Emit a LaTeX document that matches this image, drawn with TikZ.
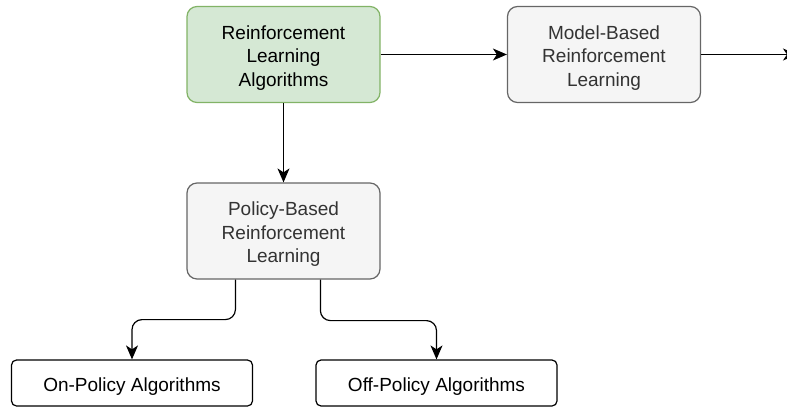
\documentclass[tikz,border=0pt]{standalone}
\usepackage{fontspec}
\setmainfont{Liberation Sans}
\usetikzlibrary{arrows.meta}
\definecolor{greenfill}{HTML}{D5E8D4}
\definecolor{greenline}{HTML}{82B366}
\definecolor{grayfill}{HTML}{F5F5F5}
\definecolor{grayline}{HTML}{666666}
\definecolor{graytext}{HTML}{333333}
% stacked, centred lines of a label, set slightly low in their box
\newcommand\labellines[1]{\raisebox{-3.5pt}[\height][\depth]{\begin{tabular}{@{}c@{}}#1\end{tabular}}}
\tikzset{
  box/.style={rectangle, rounded corners=10pt, line width=1.2pt,
    minimum width=193pt, minimum height=96pt, inner sep=0pt,
    font=\fontsize{19}{23.5}\selectfont},
  rootbox/.style={box, fill=greenfill, draw=greenline},
  graybox/.style={box, fill=grayfill, draw=grayline, text=graytext},
  leafbox/.style={rectangle, rounded corners=5pt, line width=1.2pt, draw=black,
    fill=white, minimum width=241pt, minimum height=46pt, inner sep=0pt,
    font=\fontsize{19}{23.5}\selectfont},
  link/.style={line width=1.2pt, draw=black,
    -{Stealth[length=14pt,width=12pt,inset=4pt]}},
}
\begin{document}
\begin{tikzpicture}[x=1pt,y=-1pt]
\useasboundingbox (0,0) rectangle (787,409);
\clip (0,0) rectangle (787,409);
\node[rootbox] (rl) at (283.5,54.5) {\labellines{Reinforcement\\Learning\\Algorithms}};
\node[graybox] (mb) at (604,54.5) {\labellines{Model-Based\\Reinforcement\\Learning}};
\node[graybox] (pb) at (283.5,231) {\labellines{Policy-Based\\Reinforcement\\Learning}};
\node[leafbox] (on) at (132,383) {\labellines{On-Policy Algorithms}};
\node[leafbox] (off) at (436.5,383) {\labellines{Off-Policy Algorithms}};
\coordinate (out) at (797,54.5);
\coordinate (pbl) at ([xshift=49pt]pb.south west);
\coordinate (pbr) at ([xshift=134pt]pb.south west);
% connectors
\draw[link] (rl.east) -- (mb.west);
\draw[link] (mb.east) -- (out);
\draw[link] (rl.south) -- (pb.north);
\draw[link, rounded corners=10pt] (pbl) -- ++(0,40) -| (on.north);
\draw[link, rounded corners=10pt] (pbr) -- ++(0,41) -| (off.north);
\end{tikzpicture}
\end{document}
